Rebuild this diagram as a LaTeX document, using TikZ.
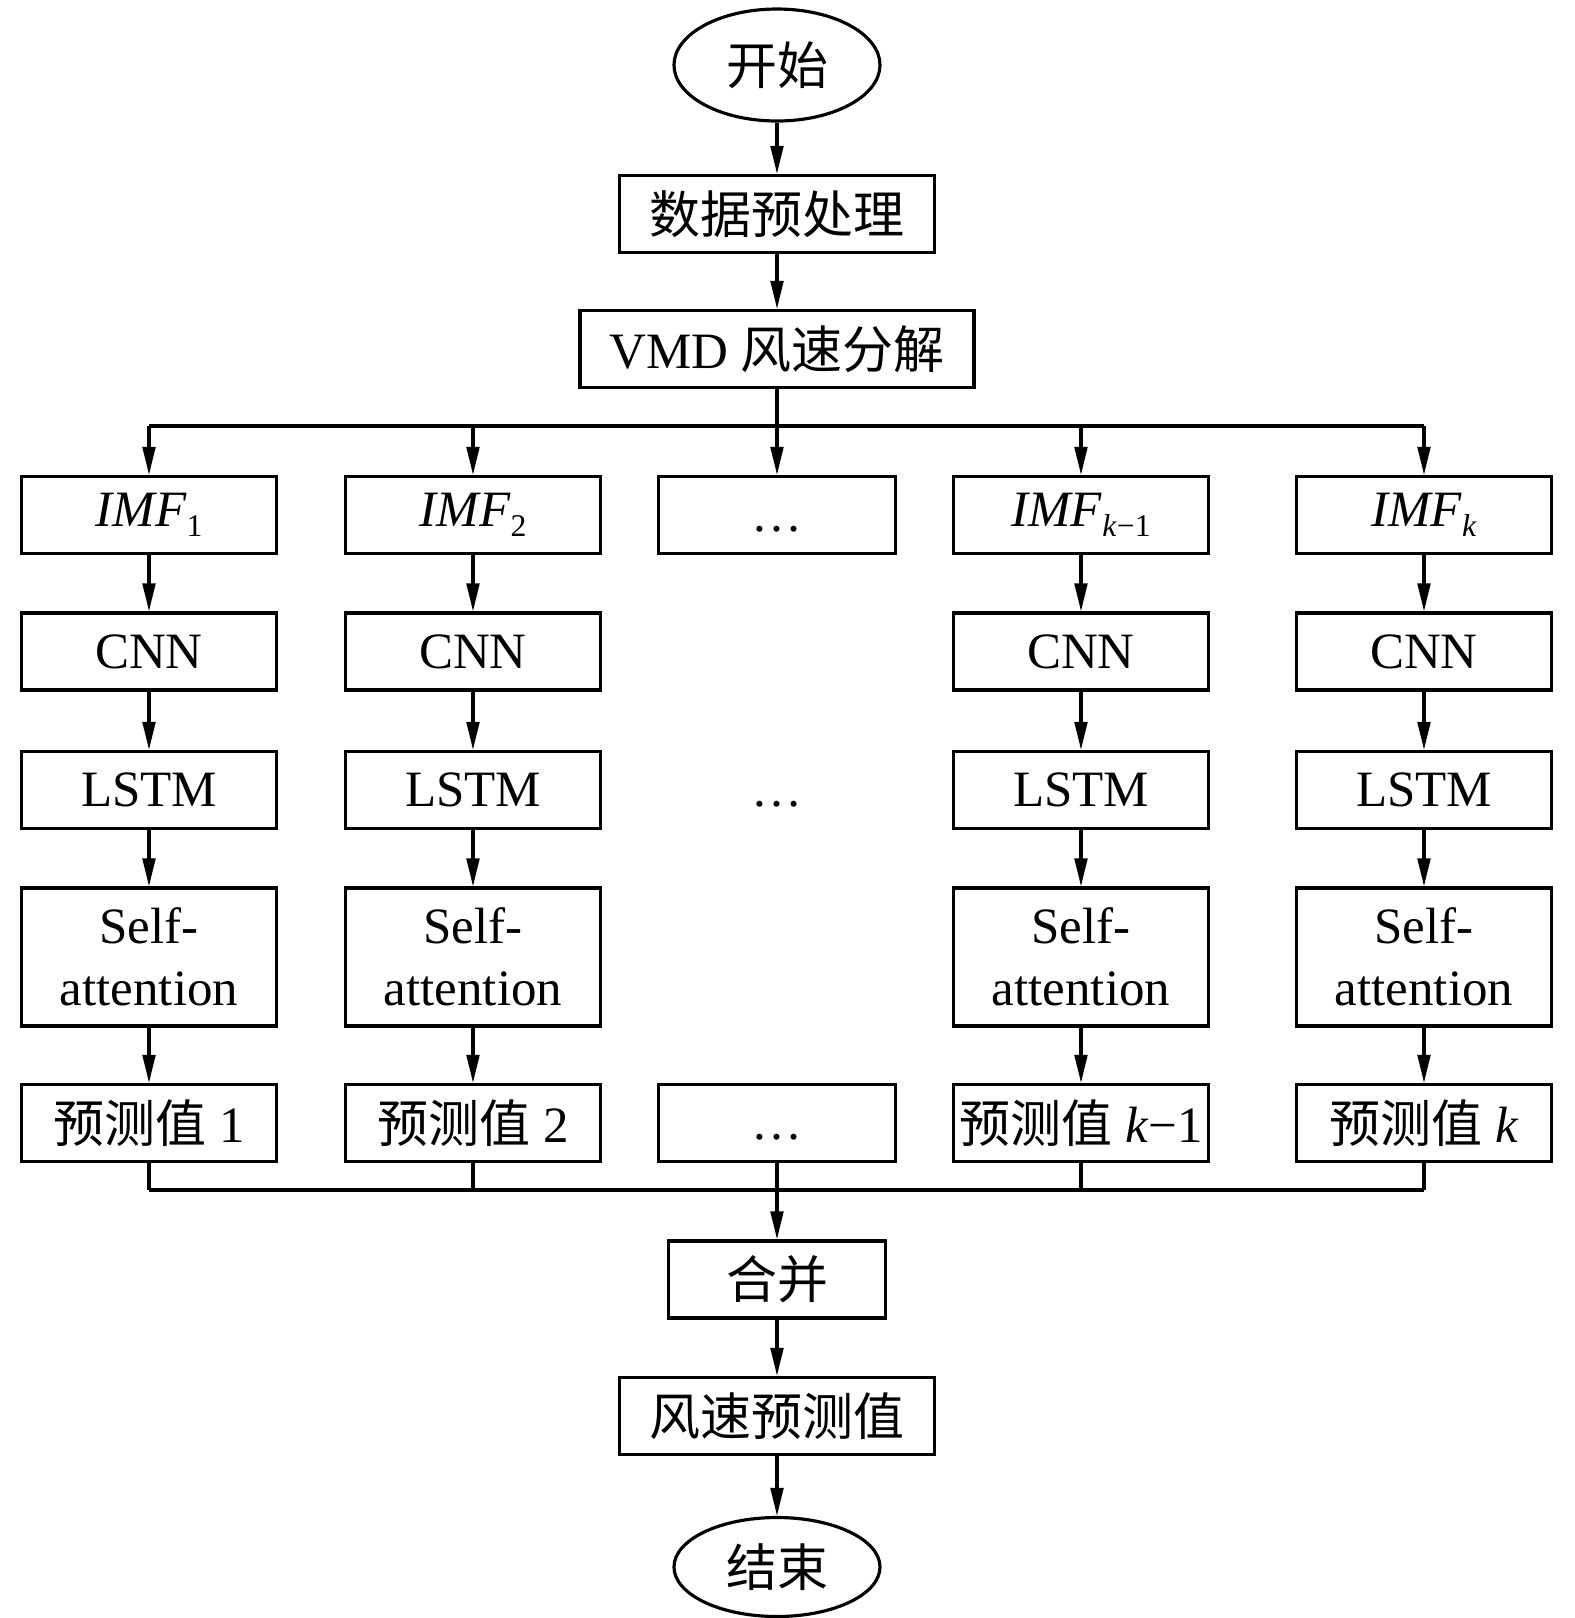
\documentclass[tikz,border=0pt]{standalone}
\usepackage{fontspec}
\setmainfont{Liberation Serif}
\newfontfamily\cjk{Noto Sans CJK SC}
\usetikzlibrary{arrows.meta,shapes.geometric}

\newcommand{\lowsub}[1]{\raisebox{-3pt}{\fontsize{9}{10}\selectfont #1}}

\tikzset{
	box/.style={draw, line width=0.9pt, minimum width=2.55cm, minimum height=0.77cm, inner sep=0pt, align=center},
	oval/.style={draw, ellipse, line width=0.9pt, minimum width=2.06cm, minimum height=1.12cm, inner sep=0pt},
	arr/.style={line width=0.9pt, -{Triangle[length=8pt,width=3.6pt]}},
	line/.style={line width=0.9pt}
}

\begin{document}
\begin{tikzpicture}[font=\fontsize{14.5}{17.6}\selectfont]
		\useasboundingbox (0,0) rectangle (15.75,-16.18);
		% top part
		\node [oval] (start) at (7.77,-0.65) {\cjk 开始};
		\node [box, minimum width=3.15cm] (prep) at (7.77,-2.14) {\cjk 数据预处理};
		\node [box, minimum width=3.94cm] (vmd) at (7.77,-3.49) {VMD {\cjk 风速分解}};
		\coordinate (split) at (7.77,-4.26);
		\coordinate (join) at (7.77,-11.90);
		\draw [arr] (start) -- (prep);
		\draw [arr] (prep) -- (vmd);
		% columns
		\foreach \n/\x/\sub in {1/1.49/1, 2/4.73/2, 4/10.81/{\textit{k}−1}, 5/14.24/\textit{k}} {
			\node [box] (imf\n) at (\x,-5.15) {\textit{IMF}\lowsub{\sub}};
			\node [box] (cnn\n) at (\x,-6.515) {CNN};
			\node [box] (lstm\n) at (\x,-7.90) {LSTM};
			\node [box, minimum height=1.38cm] (att\n) at (\x,-9.57) {Self-\\attention};
			\node [box] (pred\n) at (\x,-11.23) {{\cjk 预测值} \sub};
			\draw [arr] (split -| imf\n) -- (imf\n);
			\draw [arr] (imf\n) -- (cnn\n);
			\draw [arr] (cnn\n) -- (lstm\n);
			\draw [arr] (lstm\n) -- (att\n);
			\draw [arr] (att\n) -- (pred\n);
			\draw [line] (pred\n) -- (join -| pred\n);
		}
		\node [box, minimum width=2.37cm] (imf3) at (7.77,-5.15) {\vphantom{IMF}…};
		\node (mid3) at (7.77,-7.90) {\vphantom{LSTM}…};
		\node [box, minimum width=2.37cm] (pred3) at (7.77,-11.23) {\vphantom{IMF}…};
		\draw [line] (split -| imf1) -- (split -| imf5);
		\draw [arr] (vmd) -- (imf3);
		\draw [line] (join -| pred1) -- (join -| pred5);
		% bottom part
		\node [box, minimum width=2.17cm] (merge) at (7.77,-12.795) {\cjk 合并};
		\node [box, minimum width=3.15cm] (out) at (7.77,-14.16) {\cjk 风速预测值};
		\node [oval, minimum height=0.99cm] (stop) at (7.77,-15.67) {\cjk 结束};
		\draw [arr] (pred3) -- (merge);
		\draw [arr] (merge) -- (out);
		\draw [arr] (out) -- (stop);
	\end{tikzpicture}
\end{document}
